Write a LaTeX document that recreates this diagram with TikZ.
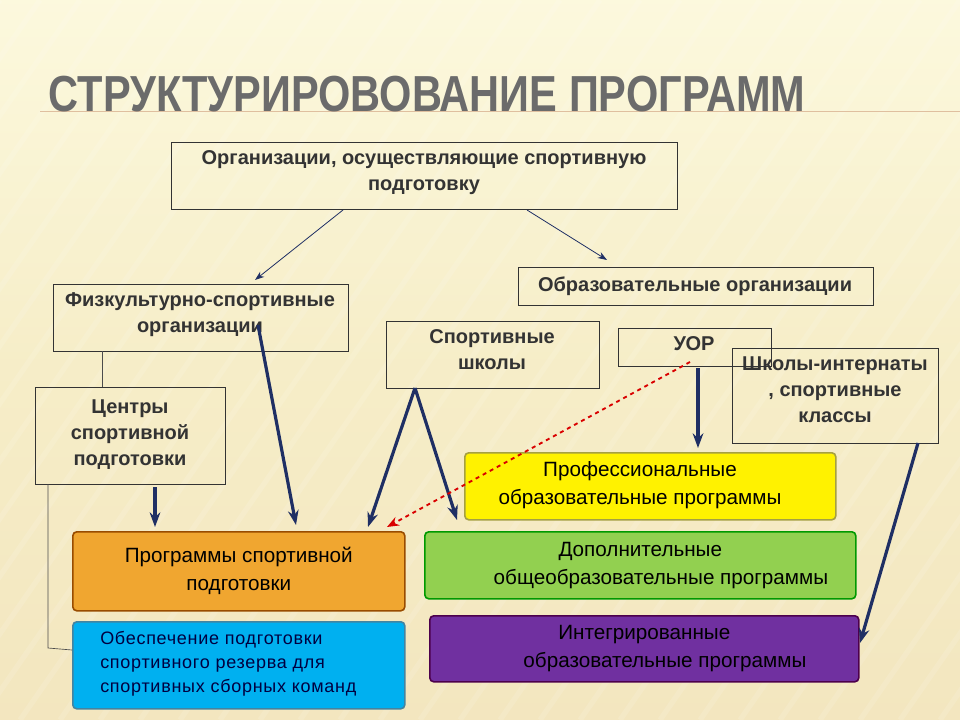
\documentclass[tikz,border=0pt]{standalone}
\usepackage{fontspec}
\setmainfont{Liberation Sans}
\usetikzlibrary{arrows.meta}
\definecolor{navy}{HTML}{1F2F64}
\tikzset{
 box/.style={draw=black!80,line width=0.6pt,inner sep=0pt},
 lbl/.style={align=center,font=\bfseries\fontsize{15}{19.5}\selectfont,text=black!80,inner sep=0pt},
 prog/.style={draw=#1!60!black,line width=1.2pt,rounded corners=3pt,align=center,font=\fontsize{15.5}{21}\selectfont,inner sep=0pt},
 thinarr/.style={-{Stealth[length=7pt,width=5pt]},navy,line width=0.6pt},
 bigarr/.style={-{Stealth[length=11pt,width=8pt]},navy,line width=2.4pt},
}
\begin{document}
\begin{tikzpicture}[x=0.75pt,y=-0.75pt]
\useasboundingbox (0,0) rectangle (960,720);
\shade[top color=yellow!10!white!95!brown,bottom color=yellow!35!brown!30!white,middle color=yellow!45!brown!25!white] (0,0) rectangle (960,720);
\foreach \i in {-10,...,40}{\draw[white,opacity=0.12,line width=4pt] (\i*40,0) -- ++(-500,720);}
\draw[brown!50,line width=0.6pt] (40,111) -- (960,111);
\node[anchor=west,text=black!58] (title) at (44,94) {\scalebox{0.82}[1]{\fontsize{38}{40}\selectfont\bfseries СТРУКТУРИРОВОВАНИЕ ПРОГРАММ}};

\node[box,minimum width=506*0.75pt,minimum height=67*0.75pt,anchor=north west] (org) at (171,142) {};
\node[lbl,anchor=north] at (424,150) {Организации, осуществляющие спортивную\\подготовку};
\node[box,minimum width=355*0.75pt,minimum height=38*0.75pt,anchor=north west] (obr) at (518,267) {};
\node[lbl] at (695,286) {Образовательные организации};
\node[box,minimum width=295*0.75pt,minimum height=67*0.75pt,anchor=north west] (fiz) at (53,284) {};
\node[lbl,anchor=north] at (200,292) {Физкультурно-спортивные\\организации};
\node[box,minimum width=213*0.75pt,minimum height=67*0.75pt,anchor=north west] (ss) at (386,321) {};
\node[lbl,anchor=north] at (492,329) {Спортивные\\школы};
\node[box,minimum width=153*0.75pt,minimum height=38*0.75pt,anchor=north west] (uor) at (618,328) {};
\node[lbl,anchor=north] at (694,336) {УОР};
\node[box,minimum width=206*0.75pt,minimum height=95*0.75pt,anchor=north west] (shi) at (732,348) {};
\node[lbl,anchor=north] at (835,356) {Школы-интернаты\\, спортивные\\классы};
\node[box,minimum width=190*0.75pt,minimum height=97*0.75pt,anchor=north west] (cen) at (35,387) {};
\node[lbl] at (130,435) {Центры\\спортивной\\подготовки};

\node[prog=yellow,fill=yellow,minimum width=371*0.75pt,minimum height=67*0.75pt,anchor=north west] (pro) at (464,452) {};
\node[lbl,font=\fontsize{15.5}{21}\selectfont,text=black] at (640,485) {Профессиональные\\образовательные программы};
\node[prog=orange,fill={rgb,255:red,240;green,166;blue,48},minimum width=332*0.75pt,minimum height=79*0.75pt,anchor=north west] (psp) at (72,531) {Программы спортивной\\подготовки};
\node[prog=green,fill={rgb,255:red,146;green,208;blue,80},minimum width=431*0.75pt,minimum height=67*0.75pt,anchor=north west] (dop) at (424,531) {Дополнительные\\\quad\quad общеобразовательные программы};
\node[prog=cyan,fill={rgb,255:red,0;green,176;blue,240},minimum width=332*0.75pt,minimum height=87*0.75pt,anchor=north west] (obe) at (72,621) {};
\node[anchor=west,align=left,font=\fontsize{13.5}{18}\selectfont,text=black!75!blue,inner sep=0pt] at (100,664) {\addfontfeature{LetterSpace=4}Обеспечение подготовки\\\addfontfeature{LetterSpace=4}спортивного резерва для\\\addfontfeature{LetterSpace=4}спортивных сборных команд};
\node[prog=violet,fill={rgb,255:red,112;green,48;blue,160},minimum width=429*0.75pt,minimum height=66*0.75pt,anchor=north west] (int) at (429,615) {Интегрированные\\\quad\quad образовательные программы};

\draw[thinarr] (343,210) -- (255,280);
\draw[thinarr] (527,210) -- (607,260);
\draw[black!70,line width=0.5pt] (102,351) -- (102,387);
\draw[black!70,line width=0.5pt] (48,484) -- (48,648) -- (72,650);
\draw[bigarr] (258,325) -- (296,525);
\draw[bigarr] (155,487) -- (155,527);
\draw[bigarr] (415,388) -- (368,527);
\draw[bigarr] (415,388) -- (457,520);
\draw[bigarr] (698,368) -- (698,448);
\draw[bigarr] (918,443) -- (860,643);
\draw[red!85!black,dashed,line width=1.4pt,-{Stealth[length=9pt,width=7pt]}] (690,362) -- (387,527);
\end{tikzpicture}
\end{document}
